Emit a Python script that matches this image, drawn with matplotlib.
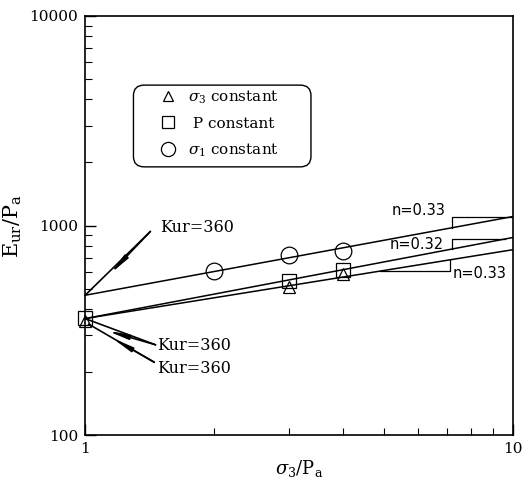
import numpy as np
import matplotlib.pyplot as plt
from matplotlib.patches import FancyBboxPatch
from matplotlib.ticker import LogLocator, FixedLocator, FuncFormatter, NullFormatter

plt.rcParams['font.family'] = ['DejaVu Serif']
plt.rcParams['mathtext.fontset'] = 'dejavuserif'

# test points
tri_x = [1, 3, 4]
tri_y = [352, 512, 588]
sq_x = [1, 3, 4]
sq_y = [362, 541, 616]
circ_x = [2, 3, 4]
circ_y = [610, 725, 760]

# fitted lines: value at sigma3/Pa = 1 and at 10
line_x = [1, 10]
line_top = [465, 1104]
line_mid = [360, 877]
line_low = [360, 767]

kur_labels = ['Kur=360', 'Kur=360', 'Kur=360']
n_labels = ['n=0.33', 'n=0.32', 'n=0.33']
legend_labels = [r'$\sigma_3$ constant', r' P constant', r'$\sigma_1$ constant']


def on_line(line, x):
    return 10 ** np.interp(np.log10(x), np.log10(line_x), np.log10(line))


fig = plt.figure(figsize=(5.32, 4.83), dpi=100)
ax = fig.add_axes([0.160, 0.099, 0.804, 0.868])
ax.set_xscale('log')
ax.set_yscale('log')
ax.set_xlim(1, 10)
ax.set_ylim(100, 10000)

for ln in (line_top, line_mid, line_low):
    ax.plot(line_x, ln, color='black', lw=1.1)

h1, = ax.plot(tri_x, tri_y, ls='none', marker='^', ms=9, mfc='none', mec='black', mew=0.9, clip_on=False)
h2, = ax.plot(sq_x, sq_y, ls='none', marker='s', ms=10, mfc='none', mec='black', mew=0.9, clip_on=False)
h3, = ax.plot(circ_x, circ_y, ls='none', marker='o', ms=12, mfc='none', mec='black', mew=0.9, clip_on=False)

# legend entries without frame, rounded box drawn separately
leg = ax.legend([h1, h2, h3], legend_labels, loc='upper left', bbox_to_anchor=(0.141, 0.846),
                fontsize=11, frameon=False, handletextpad=0.3, labelspacing=0.72,
                borderpad=0.0, markerscale=0.85, handlelength=2.0)
box = FancyBboxPatch((0.118, 0.645), 0.405, 0.185, transform=ax.transAxes,
                     boxstyle='round,pad=0.005,rounding_size=0.025',
                     fc='none', ec='black', lw=1.0)
ax.add_patch(box)

# slope triangles
xa, xb = 7.2, 10.0
yb = on_line(line_top, xb)
ax.plot([xa, xa, xb], [on_line(line_top, xa), yb, yb], color='black', lw=0.9)
xb2 = 9.58
yb2 = on_line(line_mid, xb2)
ax.plot([xa, xa, xb2], [on_line(line_mid, xa), yb2, yb2], color='black', lw=0.9)
xl, xr = 4.89, 7.13
yl = on_line(line_low, xl)
ax.plot([xl, xr, xr], [yl, yl, on_line(line_low, xr)], color='black', lw=0.9)

ax.text(6.97, 1180, n_labels[0], ha='right', va='center', fontsize=10.5, family='DejaVu Sans')
ax.text(6.9, 811, n_labels[1], ha='right', va='center', fontsize=10.5, family='DejaVu Sans')
ax.text(7.24, 589, n_labels[2], ha='left', va='center', fontsize=10.5, family='DejaVu Sans')

# Kur labels with arrows pointing at the intercepts
kur_text = [(1.50, 978), (1.473, 267), (1.473, 207)]
arrow_tail = [(1.42, 936), (1.46, 270), (1.45, 223)]
arrow_head = [(1.144, 589), (1.126, 315), (1.156, 291)]
tips = [(1.0, line_top[0]), (1.0, line_mid[0]), (1.02, line_low[0] * 0.94)]
for lab, tpos, tail, head, tip in zip(kur_labels, kur_text, arrow_tail, arrow_head, tips):
    ax.text(tpos[0], tpos[1], lab, ha='left', va='center', fontsize=11.5)
    ax.plot([tail[0], tip[0]], [tail[1], tip[1]], color='black', lw=1.2, clip_on=False)
    ax.annotate('', xy=head, xytext=tail,
                arrowprops=dict(arrowstyle='-|>,head_length=1.2,head_width=0.14',
                                color='black', lw=1.2, shrinkA=0, shrinkB=0))

ax.xaxis.set_major_locator(FixedLocator([1, 10]))
ax.xaxis.set_minor_locator(LogLocator(base=10, subs=np.arange(2, 10)))
ax.yaxis.set_major_locator(FixedLocator([100, 1000, 10000]))
ax.yaxis.set_minor_locator(LogLocator(base=10, subs=np.arange(2, 10)))
fmt = FuncFormatter(lambda v, p: '%d' % round(v))
ax.xaxis.set_major_formatter(fmt)
ax.yaxis.set_major_formatter(fmt)
ax.xaxis.set_minor_formatter(NullFormatter())
ax.yaxis.set_minor_formatter(NullFormatter())
ax.tick_params(which='major', direction='in', length=8, width=1, labelsize=11, pad=5)
ax.tick_params(which='minor', direction='in', length=5, width=0.8)
for s in ax.spines.values():
    s.set_linewidth(1.2)

ax.set_xlabel(r'$\sigma_3/\mathrm{P_a}$', fontsize=13, labelpad=1)
ax.set_ylabel(r'$\mathrm{E_{ur}/P_a}$', fontsize=15, labelpad=4)

fig.savefig('out.png', dpi=100)
